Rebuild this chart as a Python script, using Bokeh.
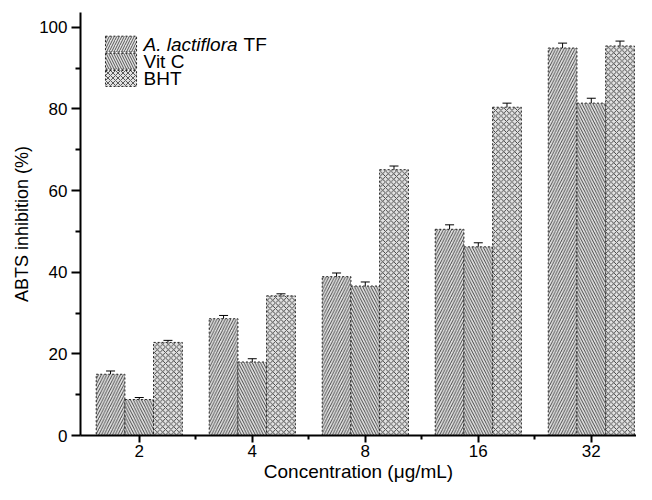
from bokeh.plotting import figure
from bokeh.models import Range1d, FixedTicker, Whisker, TeeHead, ColumnDataSource
from bokeh.core.properties import value
from bokeh.embed import file_html
from bokeh.resources import INLINE

conc_labels = ["2", "4", "8", "16", "32"]
tf = [15.0, 28.6, 38.9, 50.5, 94.9]
tf_err = [0.8, 0.8, 0.9, 1.1, 1.2]
vitc = [8.8, 18.0, 36.6, 46.2, 81.4]
vitc_err = [0.5, 0.8, 1.0, 1.0, 1.2]
bht = [22.8, 34.2, 65.1, 80.4, 95.4]
bht_err = [0.5, 0.5, 0.9, 1.0, 1.2]
series_names = ["A. lactiflora TF", "Vit C", "BHT"]

FONT = "Liberation Sans"
pos = [i + 1 for i in range(len(conc_labels))]
bw = 0.254
offsets = [-bw, 0.0, bw]
hatches = ["right_diagonal_line", "left_diagonal_line", "diagonal_cross"]
series = [(tf, tf_err), (vitc, vitc_err), (bht, bht_err)]

p = figure(width=636, height=484, output_backend="svg", toolbar_location=None,
           x_range=Range1d(0.48, 5.40), y_range=Range1d(0, 103.6),
           min_border_left=80, min_border_right=0, min_border_top=12, min_border_bottom=0)
p.outline_line_color = None
p.xgrid.visible = False
p.ygrid.visible = False
p.background_fill_color = "white"

for (vals, errs), off, h in zip(series, offsets, hatches):
    xs = [x + off for x in pos]
    src = ColumnDataSource(dict(x=xs, top=vals, up=[v + e for v, e in zip(vals, errs)],
                                lo=[v - e for v, e in zip(vals, errs)]))
    p.vbar(x="x", top="top", bottom=0, width=bw, source=src,
           fill_color="#e2e2e2", hatch_pattern=h, hatch_color="#333333",
           hatch_scale=5.5, hatch_weight=0.9,
           line_color="#222222", line_width=1, line_dash="2 2")
    w = Whisker(base="x", upper="up", lower="lo", source=src, line_color="black", line_width=1,
                upper_head=TeeHead(size=9, line_width=1, line_color="black"),
                lower_head=TeeHead(size=9, line_width=1, line_color="black"))
    p.add_layout(w)

# legend (manual, to allow the italic species name)
leg_x0, leg_x1 = 0.701, 0.976
leg_tops = [97.8, 93.6, 89.4]
leg_h = 3.9
for i, h in enumerate(hatches):
    p.quad(left=[leg_x0], right=[leg_x1], top=[leg_tops[i]], bottom=[leg_tops[i] - leg_h],
           fill_color="#e2e2e2", hatch_pattern=h, hatch_color="#333333",
           hatch_scale=5, hatch_weight=0.8, line_color="#222222", line_width=1, line_dash="2 2")
text_x = 1.038
mids = [t - leg_h / 2 for t in leg_tops]
p.text(x=[text_x], y=[mids[0]], text=["A. lactiflora"], text_font=value(FONT),
       text_font_style="italic", text_font_size="19px", text_baseline="middle", text_color="black")
p.text(x=[text_x], y=[mids[0]], text=["TF"], x_offset=100, text_font=value(FONT),
       text_font_size="19px", text_baseline="middle", text_color="black")
p.text(x=[text_x, text_x], y=mids[1:], text=series_names[1:], text_font=value(FONT),
       text_font_size="19px", text_baseline="middle", text_color="black")

# axes
xa = p.xaxis[0]
xa.ticker = FixedTicker(ticks=pos, minor_ticks=[x + 0.5 for x in pos])
xa.major_label_overrides = {x: l for x, l in zip(pos, conc_labels)}
xa.axis_label = "Concentration (\u03bcg/mL)"
ya = p.yaxis[0]
ya.ticker = FixedTicker(ticks=[0, 20, 40, 60, 80, 100], minor_ticks=[10, 30, 50, 70, 90])
ya.axis_label = "ABTS inhibition (%)"
for ax in (xa, ya):
    ax.axis_line_color = "black"
    ax.axis_line_width = 2
    ax.major_tick_line_color = "black"
    ax.minor_tick_line_color = "black"
    ax.major_tick_line_width = 2
    ax.minor_tick_line_width = 2
    ax.major_tick_in = 0
    ax.minor_tick_in = 0
    ax.major_label_text_font = FONT
    ax.major_label_text_font_size = "17px"
    ax.major_label_text_color = "black"
    ax.axis_label_text_font = FONT
    ax.axis_label_text_font_style = "normal"
    ax.axis_label_text_color = "black"
xa.axis_label_text_font_size = "19px"
ya.axis_label_text_font_size = "18px"
xa.major_tick_out = 7
xa.minor_tick_out = 4
xa.major_label_standoff = 2
xa.axis_label_standoff = 1
ya.major_tick_out = 9
ya.minor_tick_out = 5
ya.major_label_standoff = 4
ya.axis_label_standoff = 4

open("out.html", "w").write(file_html(p, INLINE))
